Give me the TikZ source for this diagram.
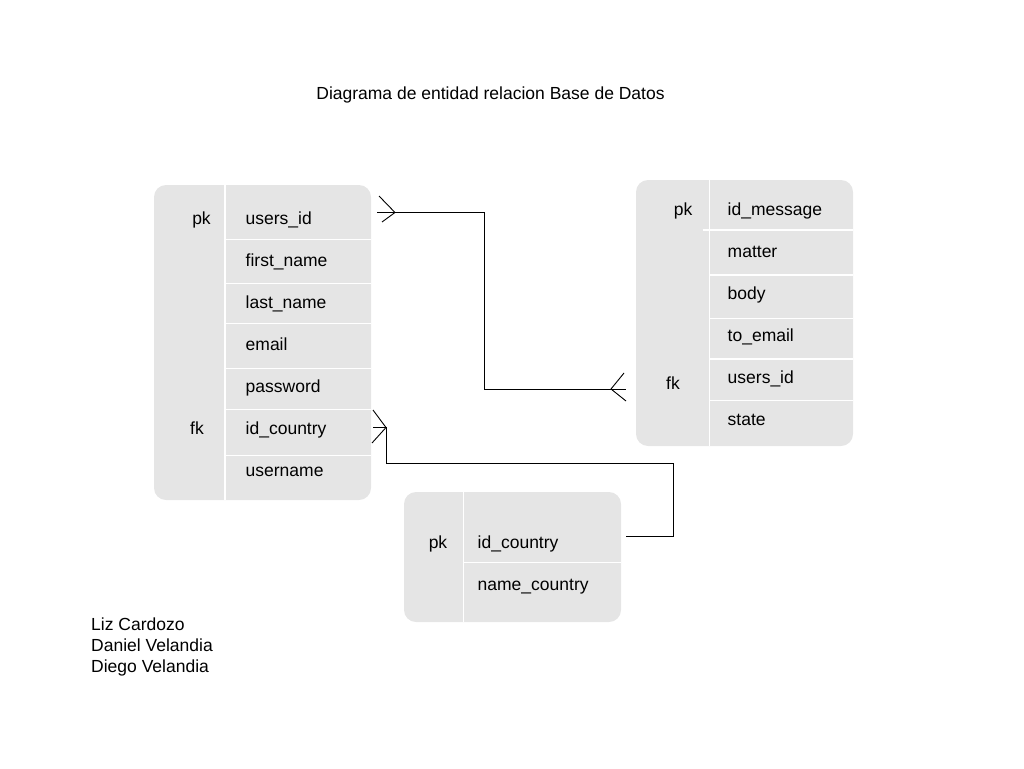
\documentclass[tikz,border=0pt]{standalone}
\usepackage{fontspec}
\setmainfont{Liberation Sans}
\definecolor{tblgray}{RGB}{229,229,229}
\begin{document}
\begin{tikzpicture}[x=1pt,y=-1pt,
  tbl/.style={fill=tblgray, draw=none, rounded corners=12pt, inner sep=0pt, outer sep=0pt, anchor=north west},
  sep/.style={draw=white, line width=1.5pt},
  fld/.style={anchor=base west, inner sep=0pt, font=\fontsize{17.5}{21}\selectfont},
  keyl/.style={anchor=base, inner sep=0pt, font=\fontsize{17.5}{21}\selectfont},
  conn/.style={draw=black, line width=1pt},
  crow/.style={draw=black, line width=0.9pt}]
\useasboundingbox (0,0) rectangle (1024,768);

% title
\node[fld, anchor=base] (title) at (490.5,99) {Diagrama de entidad relacion Base de Datos};

% users table
\node[tbl, minimum width=217pt, minimum height=315pt] (users) at (154,185) {};
\draw[sep] (225,185) -- (225,500);
\foreach \yy in {239.5,283.5,323.5,368.5,409.5,455.5} \draw[sep] (225,\yy) -- (371,\yy);
\node[keyl] (upk) at (201.5,224.5) {pk};
\node[keyl] (ufk) at (197,434) {fk};
\node[fld] (u_id) at (245.5,224.5) {users\_id};
\node[fld] (u_fn) at (245.5,266.5) {first\_name};
\node[fld] (u_ln) at (245.5,308.5) {last\_name};
\node[fld] (u_em) at (245.5,350.5) {email};
\node[fld] (u_pw) at (245.5,392.5) {password};
\node[fld] (u_ic) at (245.5,434.5) {id\_country};
\node[fld] (u_un) at (245.5,476.5) {username};

% message table
\node[tbl, minimum width=217pt, minimum height=266pt] (msg) at (636,180) {};
\draw[sep] (709.3,180) -- (709.3,446);
\draw[sep] (702.7,230) -- (853,230);
\foreach \yy in {275,318.3,359,400.3} \draw[sep] (709.3,\yy) -- (853,\yy);
\node[keyl] (mpk) at (683,215) {pk};
\node[keyl] (mfk) at (673,389) {fk};
\node[fld] (m_id) at (727.5,215) {id\_message};
\node[fld] (m_ma) at (727.5,257) {matter};
\node[fld] (m_bo) at (727.5,299) {body};
\node[fld] (m_te) at (727.5,341) {to\_email};
\node[fld] (m_ui) at (727.5,383) {users\_id};
\node[fld] (m_st) at (727.5,425) {state};

% country table
\node[tbl, minimum width=217pt, minimum height=130pt] (cty) at (404,492) {};
\draw[sep] (463.3,492) -- (463.3,622);
\draw[sep] (463.3,562.3) -- (621,562.3);
\node[keyl] (cpk) at (438,548.5) {pk};
\node[fld] (c_id) at (477.5,548.5) {id\_country};
\node[fld] (c_nm) at (477.5,590.5) {name\_country};

% authors
\node[fld] (a1) at (91,630) {Liz Cardozo};
\node[fld] (a2) at (91,651) {Daniel Velandia};
\node[fld] (a3) at (91,672) {Diego Velandia};

% connector users.users_id -> message.users_id
\coordinate (cu1) at (377,212.5);
\coordinate (cm1) at (626,389);
\draw[conn] (cu1) -- (484.5,212.5) |- (cm1);
\draw[crow] (379,196) -- (395,212.5) -- (382,222);
\draw[crow] (624,373) -- (611,389) -- (626,401);

% connector users.id_country -> country.id_country
\coordinate (cu2) at (373,427.5);
\coordinate (cc1) at (626,536);
\draw[conn] (cu2) -- (386,427.5) |- (673.3,463.5) |- (cc1);
\draw[crow] (373,410) -- (386,427.5) -- (372,443);
\end{tikzpicture}
\end{document}
